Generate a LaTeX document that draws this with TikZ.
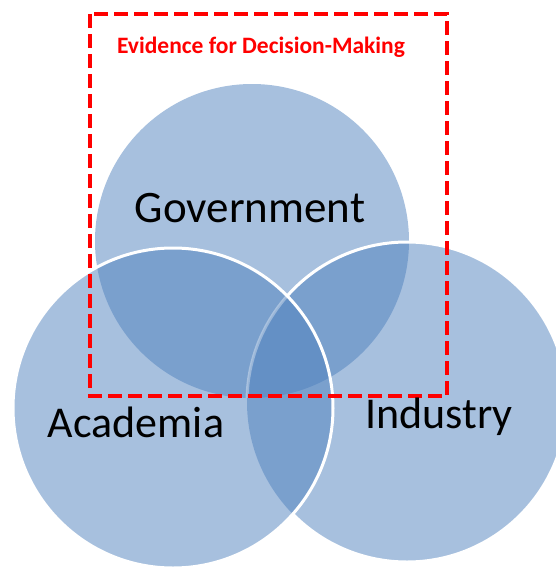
\documentclass[tikz,border=0pt]{standalone}
\usepackage{fontspec}
\setmainfont{Carlito}
\definecolor{vennblue}{RGB}{79,129,189}
\definecolor{framered}{RGB}{255,0,0}
\begin{document}
\begin{tikzpicture}[x=1pt,y=-1pt,
  venn/.style={fill=vennblue, fill opacity=0.5},
  rim/.style={draw=white, line width=3pt},
  lbl/.style={font=\fontsize{44}{44}\selectfont, text=black, anchor=base, inner sep=0pt},
  frame/.style={draw=framered, line width=4.5pt, dash pattern=on 14pt off 6pt},
  title/.style={font=\bfseries\fontsize{23.5}{23.5}\selectfont, text=framered, anchor=base, inner sep=0pt}]
\useasboundingbox (0,0) rectangle (555,568);
\coordinate (gc) at (252,241);
\coordinate (ac) at (173,408);
\coordinate (ic) at (407,402);
% fills
\fill[venn] (gc) circle (157);
\fill[venn] (ac) circle (160);
\fill[venn] (ic) circle (160);
% industry rim outside academia
\begin{scope}[even odd rule]
  \clip (-10,-10) rectangle (600,600) (ac) circle (160);
  \draw[rim] (ic) circle (160);
\end{scope}
% faint industry rim inside academia and government
\begin{scope}
  \clip (ac) circle (160);
  \clip (gc) circle (157);
  \draw[rim, draw opacity=0.35] (ic) circle (160);
\end{scope}
% academia rim
\draw[rim] (ac) circle (160);
% frame
\coordinate (f1) at (90,14);
\coordinate (f2) at (447,396);
\draw[frame] (f1) rectangle (f2);
% labels
\node[title] (evid) at (261,53) {Evidence for Decision-Making};
\node[lbl, font=\fontsize{45}{45}\selectfont] (gov) at (250,222) {Government};
\node[lbl] (acad) at (136,437) {Academia};
\node[lbl] (ind) at (439,428) {Industry};
\end{tikzpicture}
\end{document}
